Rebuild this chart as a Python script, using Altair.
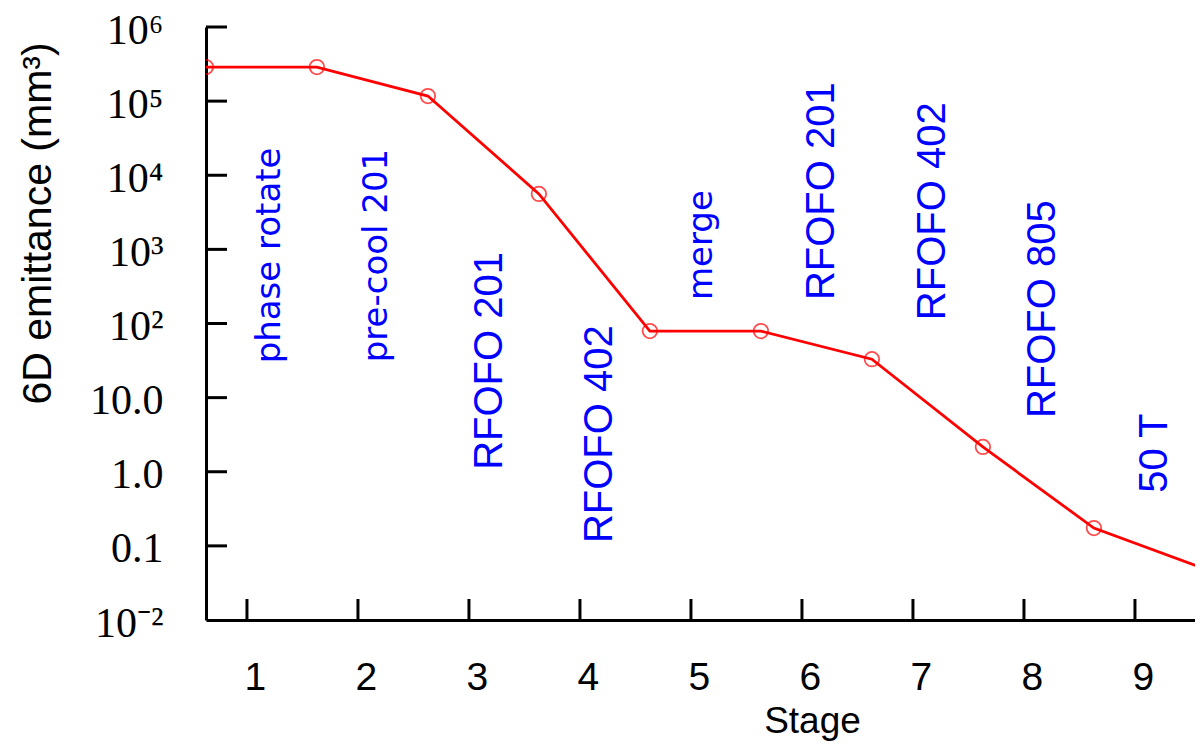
import altair as alt
import pandas as pd

# ---- data ----
stage_x = [0.63, 1.63, 2.63, 3.63, 4.63, 5.63, 6.63, 7.63, 8.63, 9.63]
emittance = [2.88e5, 2.88e5, 1.17e5, 5.6e3, 79, 79, 33, 2.16, 0.174, 0.049]

x_ticks = [1, 2, 3, 4, 5, 6, 7, 8, 9]
y_tick_values = [0.01, 0.1, 1, 10, 100, 1e3, 1e4, 1e5, 1e6]
y_tick_labels = ["10⁻²", "0.1", "1.0", "10.0", "10²", "10³", "10⁴", "10⁵", "10⁶"]

labels_a_text = ["phase rotate", "pre-cool 201", "merge"]
labels_a_x = [1.30, 2.26, 5.19]
labels_a_y = [29, 30, 207]

labels_b_text = ["RFOFO 201", "RFOFO 402", "RFOFO 201", "RFOFO 402", "RFOFO 805", "50 T"]
labels_b_x = [3.30, 4.29, 6.29, 7.29, 8.28, 9.29]
labels_b_y = [1.06, 0.109, 207, 111, 5.3, 0.52]

# ---- tables ----
df = pd.DataFrame({"x": stage_x, "y": emittance})
df_yt = pd.DataFrame({"y": y_tick_values[1:]})
df_xt = pd.DataFrame({"x": x_ticks})
df_a = pd.DataFrame({"x": labels_a_x, "y": labels_a_y, "t": labels_a_text})
df_b = pd.DataFrame({"x": labels_b_x, "y": labels_b_y, "t": labels_b_text})

PLOT_W = 989
PX_PER_STAGE = 111.0
X_MIN = 0.631
xs = alt.Scale(domain=[X_MIN, X_MIN + PLOT_W / PX_PER_STAGE], nice=False, zero=False)
ys = alt.Scale(type="log", domain=[0.01, 1e6], nice=False)

label_array = "[" + ",".join("'" + s + "'" for s in y_tick_labels) + "]"
y_label_expr = label_array + "[round(log(datum.value)/LN10)+2]"

x_axis = alt.Axis(
    values=x_ticks, format="d", title="Stage",
    labelFont="Liberation Sans", labelFontSize=39, labelColor="black",
    labelOffset=8, labelPadding=69, labelBaseline="alphabetic", labelFlush=False,
    titleFont="Liberation Sans", titleFontSize=37, titleFontWeight="normal", titleColor="black",
    titleX=606, titleY=112, titleAlign="center", titleBaseline="alphabetic",
)
y_axis = alt.Axis(
    values=y_tick_values, labelExpr=y_label_expr, title="6D emittance (mm³)",
    labelFont="Liberation Serif", labelFontSize=42, labelColor="black",
    labelPadding=43, labelAlign="right", labelBaseline="alphabetic", labelOffset=16,
    labelOverlap=False, labelFlush=False,
    titleFont="Liberation Sans", titleFontSize=41, titleFontWeight="normal", titleColor="black",
    titleAngle=270, titleX=-156, titleY=196, titleAlign="center", titleBaseline="alphabetic",
)

X = alt.X("x:Q", scale=xs, axis=x_axis)
Y = alt.Y("y:Q", scale=ys, axis=y_axis)

line = alt.Chart(df).mark_line(color="#ff0000", strokeWidth=2.8, clip=True).encode(x=X, y=Y)
pts = alt.Chart(df).mark_point(shape="circle", filled=False, size=210, strokeWidth=1.8,
                               color="#ff0000", clip=True).encode(x=X, y=Y)
ytick = alt.Chart(df_yt).mark_rule(color="black", strokeWidth=3).encode(
    y=Y, x=alt.value(0), x2=alt.value(21),
)
xtick = alt.Chart(df_xt).mark_rule(color="black", strokeWidth=3).encode(
    x=X, y=alt.value(593), y2=alt.value(572),
)
txt_a = alt.Chart(df_a).mark_text(angle=270, align="left", baseline="alphabetic",
                                  font="DejaVu Sans", fontSize=34, color="#0000ff").encode(
    x=X, y=Y, text="t:N",
)
txt_b = alt.Chart(df_b).mark_text(angle=270, align="left", baseline="alphabetic",
                                  font="Liberation Sans", fontSize=40, color="#0000ff").encode(
    x=X, y=Y, text="t:N",
)

chart = alt.layer(line, pts, ytick, xtick, txt_a, txt_b).properties(
    width=PLOT_W, height=593,
    autosize=alt.AutoSizeParams(type="none"),
    padding={"left": 198, "top": 19, "right": 0, "bottom": 121},
    background="white",
).configure_axis(
    domainColor="black", domainWidth=3, grid=False, ticks=False, tickSize=0,
).configure_view(strokeWidth=0)

chart.save("out.html", embed_options={"renderer": "svg", "actions": False})
